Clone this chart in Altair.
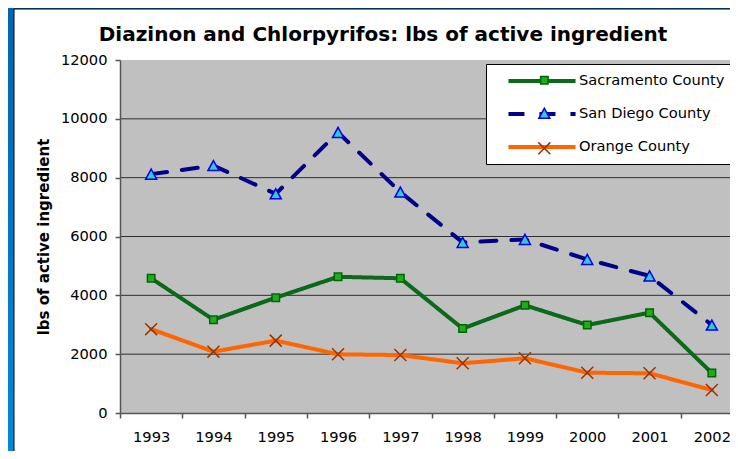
import altair as alt
import pandas as pd

# ---- data ----
years = ["1993", "1994", "1995", "1996", "1997", "1998", "1999", "2000", "2001", "2002"]
sacramento = [4580, 3170, 3920, 4630, 4580, 2870, 3660, 2990, 3410, 1360]
san_diego = [8120, 8410, 7450, 9540, 7510, 5800, 5900, 5220, 4660, 2990]
orange = [2850, 2085, 2460, 1995, 1970, 1690, 1860, 1370, 1350, 780]
counties = ["Sacramento County", "San Diego County", "Orange County"]
marker_keys = ["m1", "m2", "m3"]
y_ticks = [0, 2000, 4000, 6000, 8000, 10000, 12000]
grid_vals = [2000, 4000, 6000, 8000, 10000]

line_colors = ["#0B6A1A", "#000088", "#FF6600"]
line_dashes = [[1, 0], [16, 15], [1, 0]]
marker_fill = ["#22AA22", "#33CCCC", "transparent"]
marker_stroke = ["#006600", "#0000EE", "#993300"]
marker_shape = ["square", "M0,-1.34L1.47,1.34L-1.47,1.34Z", "M-1.6,-1.6L1.6,1.6M-1.6,1.6L1.6,-1.6"]

rows = []
for name, key, vals in zip(counties, marker_keys, [sacramento, san_diego, orange]):
    for yr, v in zip(years, vals):
        rows.append({"year": yr, "lbs": v, "county": name, "county_m": key})
df = pd.DataFrame(rows)
grid_df = pd.DataFrame({"lbs": grid_vals})
one = alt.Data(values=[{"a": 1}])

FONT = "DejaVu Sans"
W, H = 610, 353
X_RANGE = 623
PAD = {"left": 112, "top": 52, "right": 0, "bottom": 38}

x_scale = alt.Scale(type="band", domain=years, range=[0, X_RANGE], paddingInner=0, paddingOuter=0)
y_scale = alt.Scale(domain=[0, 12000], nice=False)

x_axis = alt.Axis(title=None, grid=False, tickBand="extent", labelAngle=0,
                  domainColor="#555555", domainWidth=1.5, tickColor="#555555", tickWidth=1.5,
                  tickSize=5, labelPadding=11, labelFont=FONT, labelFontSize=14.67,
                  labelColor="#000000", zindex=1)
y_axis = alt.Axis(values=y_ticks, format="d", grid=False, domainColor="#555555", domainWidth=1.5,
                  tickColor="#555555", tickWidth=1.5, tickSize=5, labelPadding=8,
                  labelFont=FONT, labelFontSize=14.67, labelColor="#000000",
                  title="lbs of active ingredient", titleFont=FONT, titleFontSize=15,
                  titleFontWeight="bold", titleColor="#000000", titlePadding=9, zindex=1)

bg = alt.Chart(one).mark_rect(
    color=alt.LinearGradient(gradient="linear",
                             stops=[alt.GradientStop(color="#0066B2", offset=0),
                                    alt.GradientStop(color="#0089DD", offset=1)],
                             x1=0, x2=0, y1=0, y2=1)
).encode(x=alt.value(-PAD["left"]), x2=alt.value(W + 20),
         y=alt.value(-PAD["top"]), y2=alt.value(H + PAD["bottom"] + 5))

white = alt.Chart(one).mark_rect(fill="#FFFFFF", stroke="#000000", strokeWidth=1).encode(
    x=alt.value(-106), x2=alt.value(W + 60), y=alt.value(-51), y2=alt.value(H + 80))

plotbg = alt.Chart(one).mark_rect(fill="#C0C0C0").encode(
    x=alt.value(0), x2=alt.value(X_RANGE), y=alt.value(0), y2=alt.value(H))

grid = alt.Chart(grid_df).mark_rule(color="#2E2E2E", strokeWidth=1).encode(
    y=alt.Y("lbs:Q", scale=y_scale, axis=y_axis),
    x=alt.value(0), x2=alt.value(X_RANGE))

leg1 = alt.Legend(title=None, orient="none", legendX=366, legendY=4,
                  fillColor="#FFFFFF", strokeColor="#000000", padding=9,
                  symbolType="M-6,0H6", symbolSize=125, symbolStrokeWidth=4,
                  symbolOffset=39, labelOffset=29, rowPadding=17,
                  labelFont=FONT, labelFontSize=14.67, labelColor="#000000")
lines = alt.Chart(df).mark_line(strokeWidth=4, strokeCap="round", strokeJoin="round").encode(
    x=alt.X("year:N", scale=x_scale, axis=x_axis),
    y=alt.Y("lbs:Q", scale=y_scale, axis=y_axis),
    color=alt.Color("county:N", scale=alt.Scale(domain=counties, range=line_colors), legend=leg1),
    strokeDash=alt.StrokeDash("county:N", scale=alt.Scale(domain=counties, range=line_dashes), legend=leg1),
)

leg2 = alt.Legend(title=None, orient="none", legendX=366, legendY=4, padding=9,
                  symbolSize=56, symbolStrokeWidth=1.5, symbolOffset=42, labelOffset=3,
                  rowPadding=17, labelFont=FONT, labelFontSize=14.67, labelOpacity=0)
points = alt.Chart(df).mark_point(size=56, opacity=1, strokeWidth=1.5, filled=False).encode(
    x=alt.X("year:N", scale=x_scale, axis=x_axis),
    y=alt.Y("lbs:Q", scale=y_scale, axis=y_axis),
    shape=alt.Shape("county_m:N", scale=alt.Scale(domain=marker_keys, range=marker_shape), legend=leg2),
    fill=alt.Fill("county_m:N", scale=alt.Scale(domain=marker_keys, range=marker_fill), legend=leg2),
    stroke=alt.Stroke("county_m:N", scale=alt.Scale(domain=marker_keys, range=marker_stroke), legend=leg2),
)

chart = alt.layer(bg, white, plotbg, grid, lines, points).properties(
    width=W, height=H,
    padding=PAD,
    autosize=alt.AutoSizeParams(type="none"),
    background="#0070C0",
    title=alt.TitleParams("Diazinon and Chlorpyrifos: lbs of active ingredient",
                          font=FONT, fontSize=20, fontWeight="bold", color="#000000",
                          anchor="middle", frame="group", dx=-42, offset=-53, baseline="alphabetic"),
).configure_view(stroke=None)

chart.save("out.html", embed_options={"renderer": "svg", "actions": False})
